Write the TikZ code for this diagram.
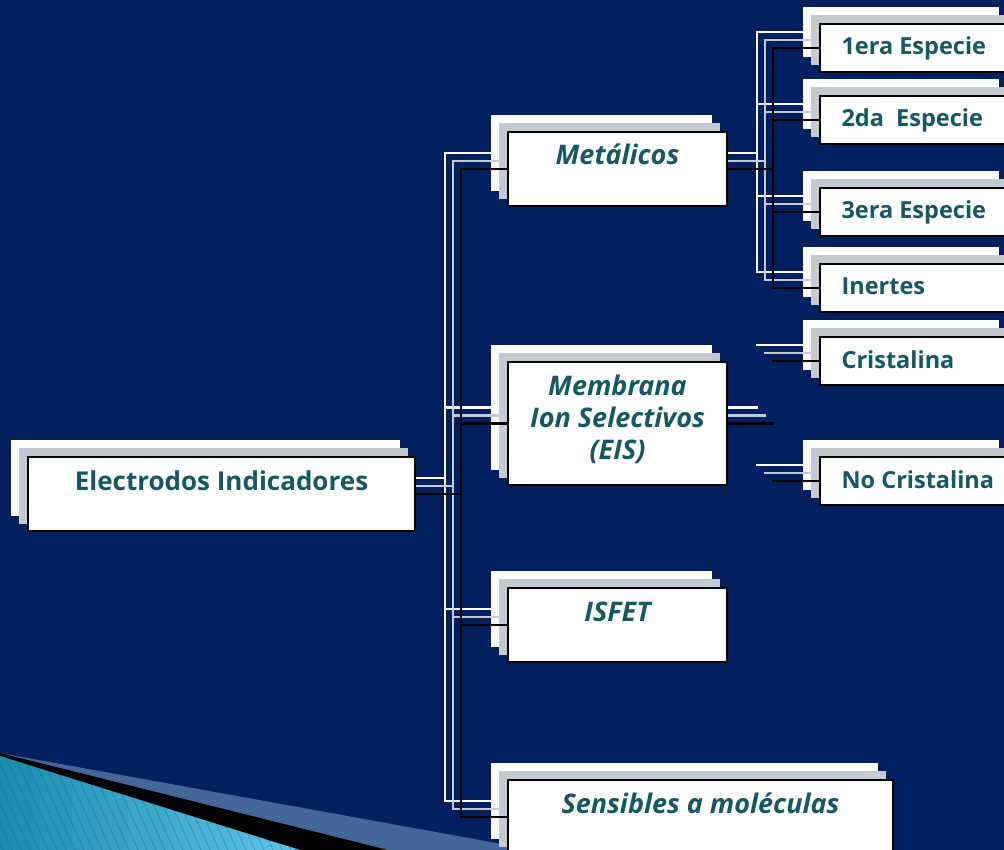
\documentclass[tikz,border=0pt]{standalone}
\usepackage{fontspec}
\setmainfont{Open Sans}
\usepackage{xcolor}
\usetikzlibrary{calc,positioning}

\definecolor{slidenavy}{HTML}{002060}
\definecolor{layergray}{HTML}{C5C9D2}
\definecolor{labelteal}{HTML}{145862}
\definecolor{swooshsteel}{HTML}{44679A}
\definecolor{swooshdark}{HTML}{1A8CAE}
\definecolor{swooshlight}{HTML}{62C4E6}

\begin{document}
\begin{tikzpicture}[x=1pt,y=-1pt,
  card/.style 2 args={rectangle,inner sep=0pt,outer sep=0pt,minimum width=#1,minimum height=#2},
  link/.style={draw=#1,line width=2.4pt,line cap=rect},
  headtext/.style={anchor=base,text=labelteal,font=\fontsize{26}{32}\selectfont\bfseries},
  branchtext/.style={anchor=base,text=labelteal,align=center,font=\fontsize{27}{32}\selectfont\bfseries\itshape},
  leaftext/.style={anchor=base west,text=labelteal,font=\fontsize{23.5}{28}\selectfont\bfseries}]

% Background
\fill[slidenavy,use as bounding box] (0,0) rectangle (1004,850);
\clip (0,0) rectangle (1004,850);

% Swoosh in the corner
\fill[swooshsteel] (0,753) -- (535,850) -- (0,850) -- cycle;
\fill[black] (0,753) -- (388,850) -- (0,850) -- cycle;
\begin{scope}
  \clip (0,756) -- (300,850) -- (0,850) -- cycle;
  \shade[left color=swooshdark,right color=swooshlight] (0,750) rectangle (300,850);
  \foreach \s in {-60,-51,...,300}
    \draw[swooshdark!70!black,opacity=.35,line width=.8pt] (\s,750) -- ++(45,100);
\end{scope}

% Three layers: white, gray, front
\foreach \k/\fillc/\linec in {0/white/white,1/layergray/layergray,2/white/black}{
\begin{scope}[shift={(8*\k,8*\k)}]
  % Root
  \node[card={387pt}{74pt},fill=\fillc,draw=\linec,line width=1.8pt] (elec-\k) at (205.5,478) {};
  % Branches
  \node[card={219pt}{74pt},fill=\fillc,draw=\linec,line width=1.8pt] (met-\k) at (601.5,153) {};
  \node[card={219pt}{123pt},fill=\fillc,draw=\linec,line width=1.8pt] (mem-\k) at (601.5,407.5) {};
  \node[card={219pt}{74pt},fill=\fillc,draw=\linec,line width=1.8pt] (isf-\k) at (601.5,609) {};
  \node[card={385pt}{74pt},fill=\fillc,draw=\linec,line width=1.8pt] (sens-\k) at (684.5,801) {};
  % Leaves
  \node[card={194pt}{48pt},fill=\fillc,draw=\linec,line width=1.8pt] (spa-\k) at (901,32) {};
  \node[card={194pt}{48pt},fill=\fillc,draw=\linec,line width=1.8pt] (spb-\k) at (901,104) {};
  \node[card={194pt}{48pt},fill=\fillc,draw=\linec,line width=1.8pt] (spc-\k) at (901,196) {};
  \node[card={194pt}{48pt},fill=\fillc,draw=\linec,line width=1.8pt] (inr-\k) at (901,272) {};
  \node[card={194pt}{48pt},fill=\fillc,draw=\linec,line width=1.8pt] (cri-\k) at (901,345) {};
  \node[card={194pt}{48pt},fill=\fillc,draw=\linec,line width=1.8pt] (ncr-\k) at (901,465) {};

  % Buses
  \coordinate (mbus-\k) at (445,0);
  \coordinate (rbus-\k) at (757,0);

  % Root to branches
  \draw[link=\linec] (elec-\k.east) -- (elec-\k.east -| mbus-\k);
  \draw[link=\linec] (met-\k.west -| mbus-\k) -- (sens-\k.west -| mbus-\k);
  \foreach \c in {met,mem,isf,sens}
    \draw[link=\linec] (\c-\k.west) -- (\c-\k.west -| mbus-\k);

  % Metalicos to leaves
  \draw[link=\linec] (met-\k.east) -- (met-\k.east -| rbus-\k);
  \draw[link=\linec] (spa-\k.west -| rbus-\k) -- (inr-\k.west -| rbus-\k);
  \foreach \c in {spa,spb,spc,inr}
    \draw[link=\linec] (\c-\k.west) -- (\c-\k.west -| rbus-\k);

  % Membrana stubs
  \draw[link=\linec] (mem-\k.east) -- (mem-\k.east -| rbus-\k);
  \foreach \c in {cri,ncr}
    \draw[link=\linec] (\c-\k.west) -- (\c-\k.west -| rbus-\k);
\end{scope}
}

% Labels
\node[headtext] (elec-t) at ($(elec-2.north)+(0,33)$) {Electrodos Indicadores};
\node[branchtext] (met-t) at ($(met-2.north)+(0,33)$) {Metálicos};
\node[branchtext] (mem-t) at ($(mem-2.north)+(0,97)$) {Membrana\\Ion Selectivos\\(EIS)};
\node[branchtext] (isf-t) at ($(isf-2.north)+(0,33)$) {ISFET};
\node[branchtext] (sens-t) at ($(sens-2.north)+(0,33)$) {Sensibles a moléculas};

\node[leaftext] (spa-t) at ($(spa-2.west)+(18,7)$) {1era Especie};
\node[leaftext] (spb-t) at ($(spb-2.west)+(18,7)$) {2da\ \ Especie};
\node[leaftext] (spc-t) at ($(spc-2.west)+(18,7)$) {3era Especie};
\node[leaftext] (inr-t) at ($(inr-2.west)+(18,7)$) {Inertes};
\node[leaftext] (cri-t) at ($(cri-2.west)+(18,7)$) {Cristalina};
\node[leaftext] (ncr-t) at ($(ncr-2.west)+(18,7)$) {No Cristalina};

\end{tikzpicture}
\end{document}
